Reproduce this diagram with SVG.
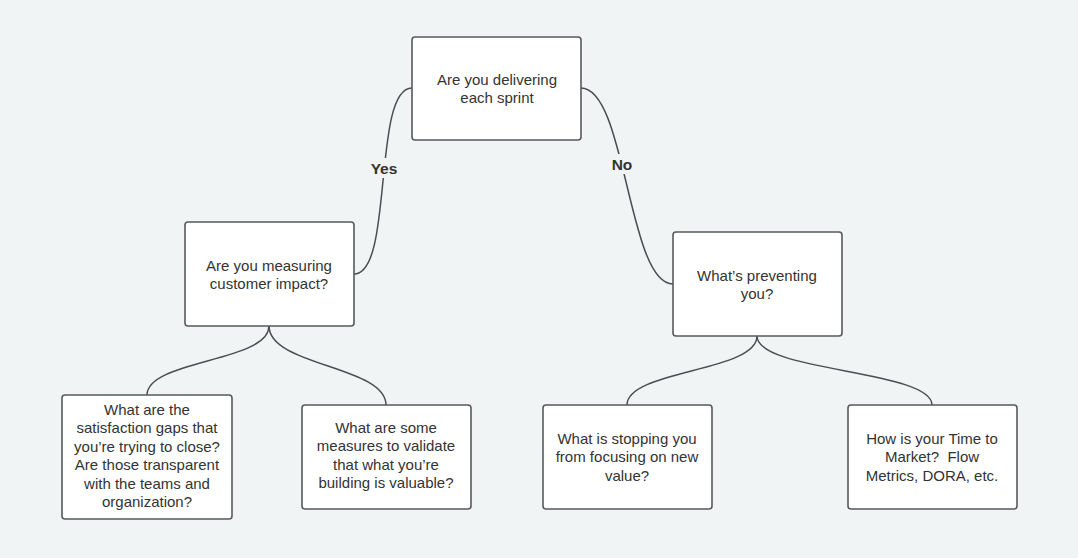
<svg xmlns="http://www.w3.org/2000/svg" width="1078" height="558" viewBox="0 0 1078 558">
<style>
.bg{fill:#f1f4f5}
.node rect{fill:#ffffff;stroke:#555a5e;stroke-width:1.6}
.node text{font-family:"Liberation Sans",Arial,sans-serif;font-size:15px;fill:#333333;text-anchor:middle;dominant-baseline:central}
.edge{fill:none;stroke:#4a4e52;stroke-width:1.5}
.lbl{font-family:"Liberation Sans",Arial,sans-serif;font-size:15.5px;font-weight:bold;fill:#333333;text-anchor:middle;dominant-baseline:central}
</style>
<rect class="bg" x="0" y="0" width="1078" height="558"/>
<g id="connectors">
<path class="edge" d="M412,88 C372,88 394,274 354,274"/>
<path class="edge" d="M581,88 C626,88 628,284 673,284"/>
<path class="edge" d="M269,326 C269,362 147,360 147,395"/>
<path class="edge" d="M269,326 C269,366 386,366 386,405"/>
<path class="edge" d="M757,336 C757,372 627,370 627,405"/>
<path class="edge" d="M757,336 C757,372 932,370 932,405"/>
<rect class="bg" x="365" y="158" width="38" height="20"/>
<rect class="bg" x="606" y="154" width="32" height="20"/>
<text class="lbl" x="384" y="168">Yes</text>
<text class="lbl" x="622" y="164">No</text>
</g>
<g id="n_top" class="node">
<rect x="412" y="37" width="169" height="103" rx="3"/>
<text x="497" y="79">Are you delivering</text>
<text x="497" y="97">each sprint</text>
</g>
<g id="n_measuring" class="node">
<rect x="185" y="222" width="169" height="104" rx="3"/>
<text x="269" y="265">Are you measuring</text>
<text x="269" y="283">customer impact?</text>
</g>
<g id="n_preventing" class="node">
<rect x="673" y="232" width="169" height="104" rx="3"/>
<text x="757" y="275">What’s preventing</text>
<text x="757" y="293">you?</text>
</g>
<g id="n_gaps" class="node">
<rect x="62" y="395" width="170" height="124" rx="3"/>
<text x="147" y="409">What are the</text>
<text x="147" y="427">satisfaction gaps that</text>
<text x="147" y="446">you’re trying to close?</text>
<text x="147" y="464">Are those transparent</text>
<text x="147" y="483">with the teams and</text>
<text x="147" y="501">organization?</text>
</g>
<g id="n_measures" class="node">
<rect x="302" y="405" width="169" height="104" rx="3"/>
<text x="386" y="427">What are some</text>
<text x="386" y="445">measures to validate</text>
<text x="386" y="464">that what you’re</text>
<text x="386" y="482">building is valuable?</text>
</g>
<g id="n_stopping" class="node">
<rect x="543" y="405" width="169" height="104" rx="3"/>
<text x="627" y="438">What is stopping you</text>
<text x="627" y="456">from focusing on new</text>
<text x="627" y="475">value?</text>
</g>
<g id="n_ttm" class="node">
<rect x="848" y="405" width="169" height="104" rx="3"/>
<text x="932" y="438">How is your Time to</text>
<text x="932" y="456" xml:space="preserve">Market?  Flow</text>
<text x="932" y="475">Metrics, DORA, etc.</text>
</g>
</svg>
